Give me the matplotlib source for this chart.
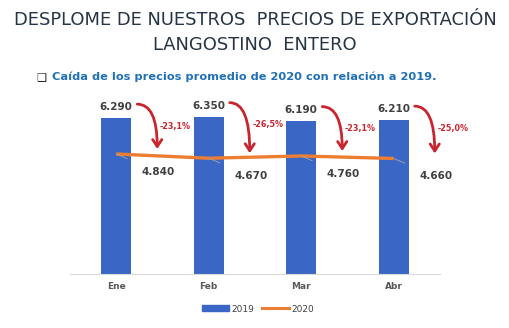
import matplotlib
matplotlib.use("Agg")
import matplotlib.pyplot as plt
from matplotlib.transforms import offset_copy
from matplotlib.patches import Patch
from matplotlib.lines import Line2D

meses = ["Ene", "Feb", "Mar", "Abr"]
precios_2019 = [6290, 6350, 6190, 6210]
precios_2020 = [4840, 4670, 4760, 4660]

azul = "#3a67c6"
naranja = "#ed7d31"
rojo = "#c9252f"
gris = "#404040"


def miles(v):
    return f"{v:,.0f}".replace(",", ".")


fig = plt.figure(figsize=(5.10, 3.28), dpi=100)
fig.patch.set_facecolor("white")

ax = fig.add_axes([70 / 510, 54 / 328, 370 / 510, 179 / 328])
x = range(len(meses))
ax.bar(x, precios_2019, width=0.32, color=azul, zorder=2)
ax.plot(x, precios_2020, color=naranja, lw=2.4, zorder=3, solid_capstyle="butt")

ax.set_xlim(-0.5, len(meses) - 0.5)
ax.set_ylim(0, 7220)
ax.set_yticks([])
ax.set_xticks(list(x))
ax.set_xticklabels(meses, fontsize=6.5, color="#595959", fontweight="bold")
ax.tick_params(axis="x", length=0, pad=6)
for s in ["top", "right", "left"]:
    ax.spines[s].set_visible(False)
ax.spines["bottom"].set_color("#d9d9d9")
ax.spines["bottom"].set_linewidth(0.8)

for i, (a, b) in enumerate(zip(precios_2019, precios_2020)):
    # valor 2019 sobre la barra
    ax.annotate(miles(a), xy=(i, a), xytext=(0, 11), textcoords="offset pixels",
                ha="center", va="center", fontsize=7.5, fontweight="bold", color=gris)
    # valor 2020 con linea guia
    ax.annotate(miles(b), xy=(i, b), xytext=(42, -18), textcoords="offset pixels",
                ha="center", va="center", fontsize=7.5, fontweight="bold", color=gris,
                arrowprops=dict(arrowstyle="-", color="#a6a6a6", lw=0.6,
                                shrinkA=10, shrinkB=0), zorder=4)
    # variacion porcentual
    var = (b / a - 1) * 100
    ax.annotate(f"{var:.1f}%".replace(".", ","), xy=(i, a), xytext=(59, -8),
                textcoords="offset pixels", ha="center", va="center",
                fontsize=5.8, fontweight="bold", color=rojo)
    # flecha curva de caida
    inicio = offset_copy(ax.transData, fig=fig, x=21, y=3, units="dots")
    fin = offset_copy(ax.transData, fig=fig, x=41, y=5, units="dots")
    ax.annotate("", xy=(i, b), xycoords=fin, xytext=(i, a + 440), textcoords=inicio,
                arrowprops=dict(arrowstyle="->,head_length=0.5,head_width=0.33",
                                color=rojo, lw=2.0, shrinkA=0, shrinkB=0,
                                connectionstyle="angle3,angleA=0,angleB=90"),
                zorder=5)

fig.text(0.5, 1 - 20 / 328, "DESPLOME DE NUESTROS  PRECIOS DE EXPORTACIÓN",
         ha="center", va="center", fontsize=12.9, color="#263545")
fig.text(0.5, 1 - 45 / 328, "LANGOSTINO  ENTERO",
         ha="center", va="center", fontsize=12.9, color="#263545")
fig.text(36 / 510, 1 - 77 / 328, "❑", ha="left", va="center", fontsize=8, color="#222222")
fig.text(52 / 510, 1 - 77 / 328, "Caída de los precios promedio de 2020 con relación a 2019.",
         ha="left", va="center", fontsize=8.2, fontweight="bold", color="#1f70b5")

handles = [Patch(color=azul), Line2D([], [], color=naranja, lw=2.2)]
fig.legend(handles, ["2019", "2020"], loc="center", bbox_to_anchor=(258 / 510, 1 - 309 / 328),
           ncol=2, frameon=False, fontsize=6.5, handlelength=3.0, handleheight=0.6,
           columnspacing=0.8, handletextpad=0.3, labelcolor="#404040")

fig.savefig("out.png", dpi=100)
